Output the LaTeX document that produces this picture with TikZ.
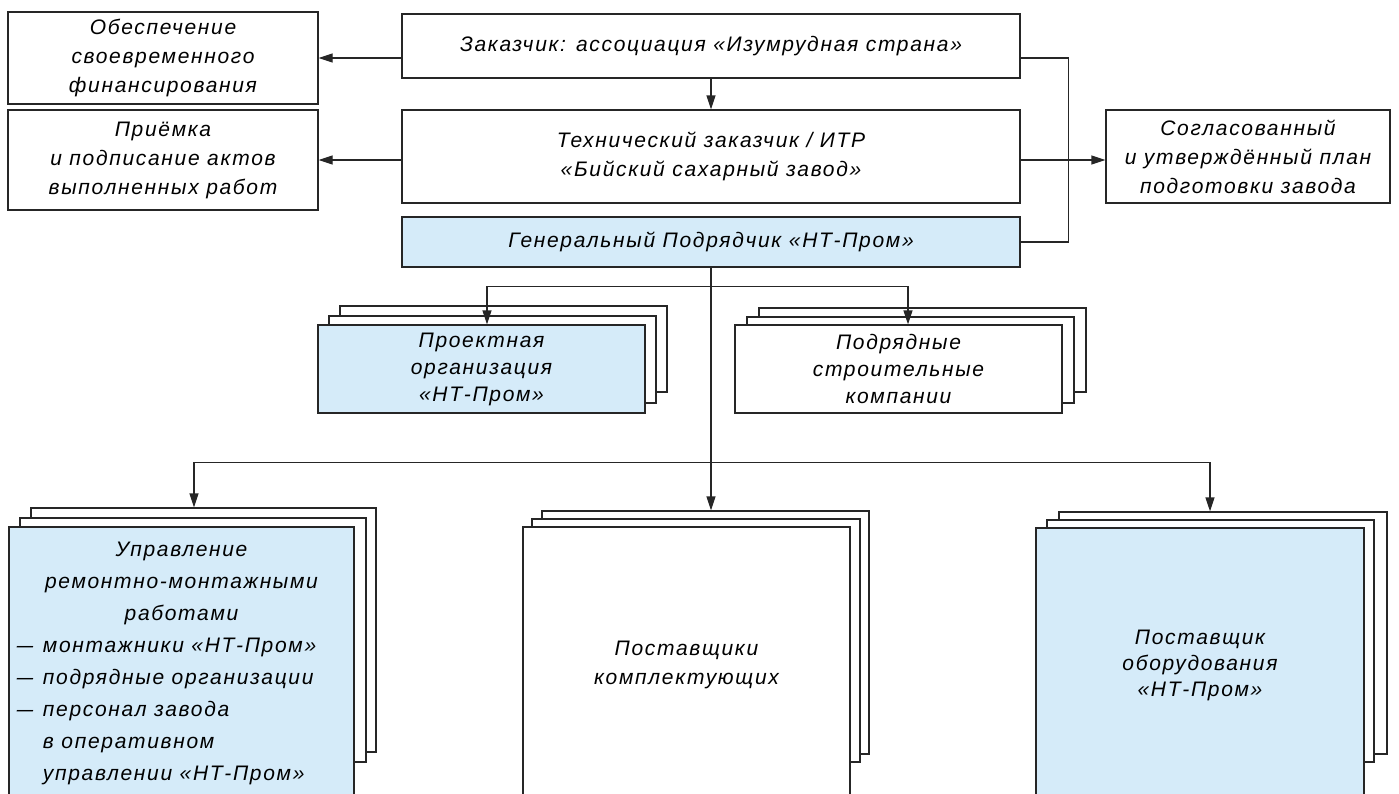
\documentclass[tikz,border=0pt]{standalone}
\usepackage{fontspec}
\setmainfont{Liberation Sans}[LetterSpace=8]
\usetikzlibrary{arrows.meta,fit,calc}
\definecolor{lblue}{HTML}{D5EBF9}
\definecolor{lnc}{HTML}{262626}
\begin{document}
\begin{tikzpicture}[x=1pt,y=-1pt,
  box/.style={draw=lnc, line width=1.3pt, fill=white, inner sep=0pt, align=center,
    font=\itshape\fontsize{21}{29}\selectfont},
  bk/.style={draw=lnc, line width=1.3pt, fill=white, inner sep=0pt},
  ln/.style={draw=lnc, line width=1.3pt},
  arr/.style={ln, -{Triangle[length=14pt,width=9pt]}}]
\useasboundingbox (0,0) rectangle (1399,793);
% top area
\node[box, minimum width=310pt, minimum height=92pt] (A) at (163,58) {Обеспечение\\своевременного\\финансирования};
\node[box, minimum width=310pt, minimum height=100pt] (B) at (163,160) {Приёмка\\и подписание актов\\выполненных работ};
\node[box, minimum width=618pt, minimum height=64pt] (C) at (711,46) {Заказчик: ассоциация «Изумрудная страна»};
\node[box, minimum width=618pt, minimum height=93pt] (D) at (711,156.5) {Технический заказчик / ИТР\\«Бийский сахарный завод»};
\node[box, fill=lblue, minimum width=618pt, minimum height=50pt] (E) at (711,242) {Генеральный Подрядчик «НТ-Пром»};
\node[box, minimum width=284pt, minimum height=93pt] (F) at (1248,156.5) {Согласованный\\и утверждённый план\\подготовки завода};
% middle stacks
\node[bk, fit={(340,306)(667,392)}] (G3) {};
\node[bk, fit={(329,316)(656,403)}] (G2) {};
\node[box, fill=lblue, minimum width=327pt, minimum height=88pt, font=\itshape\fontsize{21}{27}\selectfont] (G) at (481.5,369) {Проектная\\организация\\«НТ-Пром»};
\node[bk, fit={(759,308)(1086,392)}] (H3) {};
\node[bk, fit={(747,317)(1074,403)}] (H2) {};
\node[box, minimum width=327pt, minimum height=88pt, font=\itshape\fontsize{21}{27}\selectfont] (H) at (898.5,369) {Подрядные\\строительные\\компании};
% bottom stacks
\node[bk, fit={(31,508)(376,752)}] (L3) {};
\node[bk, fit={(20,518)(366,762)}] (L2) {};
\node[bk, fill=lblue, fit={(9,527)(354,803)}] (L) {};
\node[inner sep=0pt, font=\itshape\fontsize{21}{32}\selectfont] (Lt) at (181.5,663) {\parbox{345pt}{\centering Управление\\ремонтно-монтажными\\работами\par
\raggedright\makebox[34pt][l]{\hspace*{8pt}\scalebox{1.4}[1]{–}}монтажники «НТ-Пром»\\
\makebox[34pt][l]{\hspace*{8pt}\scalebox{1.4}[1]{–}}подрядные организации\\
\makebox[34pt][l]{\hspace*{8pt}\scalebox{1.4}[1]{–}}персонал завода\\
\hspace*{34pt}в оперативном\\
\hspace*{34pt}управлении «НТ-Пром»}};
\node[bk, fit={(542,511)(869,754)}] (M3) {};
\node[bk, fit={(532,519)(860,762)}] (M2) {};
\node[box, minimum width=327pt, minimum height=276pt] (M) at (686.5,665) {Поставщики\\комплектующих};
\node[bk, fit={(1059,512)(1387,754)}] (R3) {};
\node[bk, fit={(1047,520)(1374,762)}] (R2) {};
\node[box, fill=lblue, minimum width=328pt, minimum height=275pt, font=\itshape\fontsize{21}{26}\selectfont] (R) at (1200,665.5) {Поставщик\\оборудования\\«НТ-Пром»};
% connectors
\draw[arr] (C.west |- A.east) -- (A.east);
\draw[arr] (C.south) -- (D.north);
\draw[arr] (D.west |- B.east) -- (B.east);
\draw[arr] ([yshift=-3.5pt]F.west -| D.east) -- ([yshift=-3.5pt]F.west);
\draw[ln] (C.east |- A.east) -- ++(48,0) |- (E.east);
\coordinate (j1) at ([yshift=-19pt]E.south);
\coordinate (j2) at ([yshift=-195pt]E.south);
\draw[arr] (j1) -| ([xshift=5.5pt]G.north);
\draw[arr] (j1) -| ([xshift=9.5pt]H.north);
\draw[arr] (E.south) -- (E.south |- M3.north);
\draw[arr] (j2) -| ([xshift=-9.5pt]L3.north);
\draw[arr] (j2) -| ([xshift=-13pt]R3.north);
\end{tikzpicture}
\end{document}
